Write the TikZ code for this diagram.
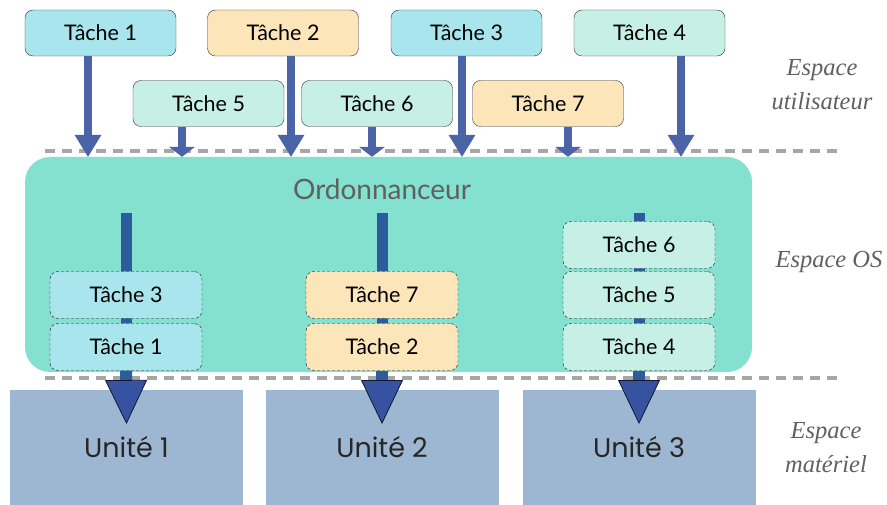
\documentclass[tikz,border=0pt]{standalone}
\usepackage{fontspec}
\newfontfamily\tachefont{Lato}
\newfontfamily\unitefont{Poppins}
\newfontfamily\espacefont{Liberation Serif}
\usepackage{tikz}
\usetikzlibrary{positioning,calc,arrows.meta}
\definecolor{ordvert}{HTML}{84E0CF}
\definecolor{cyanT}{HTML}{A8E5EC}
\definecolor{beigeT}{HTML}{FBE5B9}
\definecolor{mentheT}{HTML}{C6F0E6}
\definecolor{uniteB}{HTML}{9DB6D1}
\definecolor{flecheB}{HTML}{4B63A7}
\definecolor{tigeB}{HTML}{2C5C9B}
\definecolor{teteB}{HTML}{3752A0}
\definecolor{gristxt}{HTML}{606060}

\begin{document}
\begin{tikzpicture}[x=1pt,y=-1pt,
    tache/.style={draw=black!80, rounded corners=8pt, minimum width=151pt, minimum height=46pt, inner sep=0pt, font=\tachefont\fontsize{21.5}{24}\selectfont},
    file/.style={tache, draw=black!90, dash pattern=on 3pt off 2pt, minimum width=152pt, minimum height=47pt},
    unite/.style={fill=uniteB, minimum width=233pt, minimum height=115pt, inner sep=0pt, font=\unitefont\fontsize{27}{30}\selectfont, text=black!85},
    espace/.style={text=gristxt, align=center, font=\espacefont\itshape\fontsize{24.5}{34}\selectfont},
    sep/.style={draw=black!35, line width=4pt, dash pattern=on 10pt off 7pt},
    tfleche/.style={flecheB, line width=8pt, -{Triangle[width=27pt,length=22pt,line width=0pt]}},
    tfcourte/.style={flecheB, line width=8pt, -{Triangle[width=26pt,length=10pt,line width=0pt]}},
    tige/.style={draw=tigeB, line width=11pt},
    grosse/.style={tigeB, line width=12pt, -{Triangle[width=42pt,length=44pt,line width=0.8pt,fill=teteB,color=black!70!teteB]}}]
    \useasboundingbox (0,0) rectangle (887,505);

    % separations
    \draw [sep] (45,151) -- (838,151);
    \draw [sep] (45,378) -- (838,378);

    % espace OS
    \node [fill=ordvert, rounded corners=25pt, minimum width=727pt, minimum height=215pt] (ord) at (388.5,264.5) {};
    \node [text=gristxt, font=\tachefont\fontsize{28}{30}\selectfont] (titre) at (382,189) {Ordonnanceur};

    % unites
    \node [unite] (u1) at (126.5,447.5) {Unité 1};
    \node [unite] (u2) at (382,447.5) {Unité 2};
    \node [unite] (u3) at (639,447.5) {Unité 3};

    % taches utilisateur
    \node [tache, fill=cyanT] (t1) at (100.5,33) {Tâche 1};
    \node [tache, fill=beigeT] (t2) at (283,33) {Tâche 2};
    \node [tache, fill=cyanT] (t3) at (466.5,33) {Tâche 3};
    \node [tache, fill=mentheT] (t4) at (649.5,33) {Tâche 4};
    \node [tache, fill=mentheT] (t5) at (208.5,103.5) {Tâche 5};
    \node [tache, fill=mentheT] (t6) at (377,103.5) {Tâche 6};
    \node [tache, fill=beigeT] (t7) at (548,103.5) {Tâche 7};

    \draw [tfleche] ([xshift=-12.5pt]t1.south) -- ([xshift=-12.5pt]t1.south |- ord.north);
    \draw [tfleche] ([xshift=8pt]t2.south) -- ([xshift=8pt]t2.south |- ord.north);
    \draw [tfleche] ([xshift=-4.5pt]t3.south) -- ([xshift=-4.5pt]t3.south |- ord.north);
    \draw [tfleche] ([xshift=31.5pt]t4.south) -- ([xshift=31.5pt]t4.south |- ord.north);
    \draw [tfcourte] ([xshift=-26.5pt]t5.south) -- ([xshift=-26.5pt]t5.south |- ord.north);
    \draw [tfcourte] ([xshift=-5pt]t6.south) -- ([xshift=-5pt]t6.south |- ord.north);
    \draw [tfcourte] ([xshift=20pt]t7.south) -- ([xshift=20pt]t7.south |- ord.north);

    % files d'attente
    \coordinate (s1) at (126,213);
    \coordinate (s2) at (382,213);
    \coordinate (s3) at (639,213);
    \draw [tige] (s1) -- (126,347);
    \draw [tige] (s2) -- (382,347);
    \draw [tige] (s3) -- (639,347);

    \node [file, fill=cyanT] (f1a) at (126,295) {Tâche 3};
    \node [file, fill=cyanT] (f1b) at (126,347) {Tâche 1};
    \node [file, fill=beigeT] (f2a) at (382,295) {Tâche 7};
    \node [file, fill=beigeT] (f2b) at (382,347) {Tâche 2};
    \node [file, fill=mentheT] (f3a) at (639,245) {Tâche 6};
    \node [file, fill=mentheT] (f3b) at (639,295) {Tâche 5};
    \node [file, fill=mentheT] (f3c) at (639,347) {Tâche 4};

    \draw [grosse] (f1b.south) -- ([yshift=23.5pt]u1.center);
    \draw [grosse] (f2b.south) -- ([yshift=23.5pt]u2.center);
    \draw [grosse] (f3c.south) -- ([yshift=23.5pt]u3.center);

    % legendes
    \node [espace] (eu) at (822,85) {Espace\\utilisateur};
    \node [espace] (eos) at (829,262) {Espace OS};
    \node [espace] (em) at (826,448) {Espace\\matériel};
\end{tikzpicture}
\end{document}
